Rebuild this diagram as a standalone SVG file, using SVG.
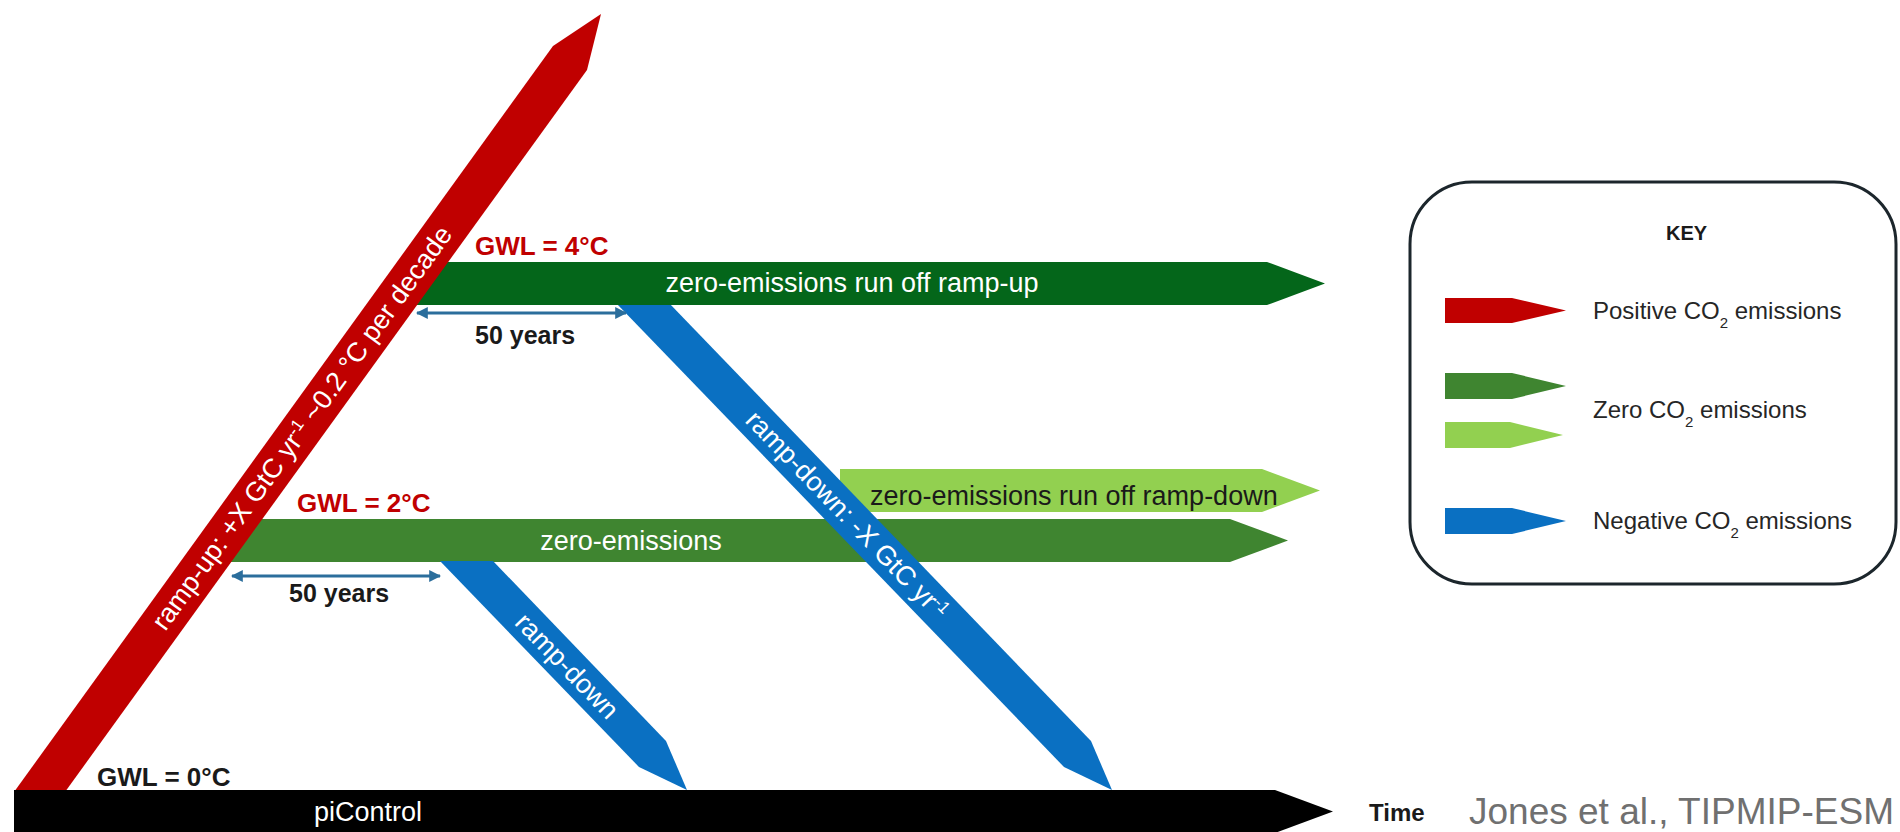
<svg xmlns="http://www.w3.org/2000/svg" width="1900" height="832" viewBox="0 0 1900 832">
<style>
text{font-family:"Liberation Sans",Arial,sans-serif}
.lbl{font-size:27px;fill:#ffffff}
.dark{font-size:27px;fill:#1a1a1a}
.gwl{font-size:26px;font-weight:bold}
.yrs{font-size:25px;font-weight:bold;fill:#1a1a1a}
.key{font-size:24px;fill:#262626}
.red{fill:#c00000}.dg{fill:#04661a}.mg{fill:#3f8530}.lg{fill:#92d050}.bl{fill:#0a70c2}.bk{fill:#000000}
.dim{stroke:#2b6e9c;stroke-width:3;fill:none;marker-start:url(#ah);marker-end:url(#ah)}
</style>
<defs>
<marker id="ah" viewBox="0 0 10 10" refX="9" refY="5" markerWidth="4" markerHeight="4" orient="auto-start-reverse">
<path d="M0,0 L10,5 L0,10 z" fill="#2b6e9c"/>
</marker>
</defs>
<rect width="1900" height="832" fill="#ffffff"/>

<g id="zero-emissions">
<polygon class="mg" points="221,519 1230,519 1288,540.5 1230,562 221,562"/>
<text class="lbl" x="631" y="550" text-anchor="middle">zero-emissions</text>
</g>

<g id="zero-emissions-run-off-ramp-down">
<polygon class="lg" points="840,469 1262,469 1320,490.5 1262,512 840,512"/>
<text class="dark" x="870" y="505">zero-emissions run off ramp-down</text>
</g>

<g id="ramp-down-long">
<polygon class="bl" points="616,303 669,303 1091,741 1112,790 1064,767"/>
<text class="lbl" transform="translate(847,515) rotate(46)" text-anchor="middle" y="9">ramp-down: -X GtC yr<tspan font-size="17" baseline-shift="super">-1</tspan></text>
</g>

<g id="zero-emissions-run-off-ramp-up">
<polygon class="dg" points="407,262 1267,262 1325,283.5 1267,305 407,305"/>
<text class="lbl" x="852" y="292" text-anchor="middle">zero-emissions run off ramp-up</text>
</g>

<g id="ramp-down-short">
<polygon class="bl" points="440,561 493,561 666,741 687,790 639,767"/>
<text class="lbl" transform="translate(567,666) rotate(46)" text-anchor="middle" y="9">ramp-down</text>
</g>

<g id="ramp-up">
<polygon class="red" points="14,792 553,46 601,14 587,70 65,792"/>
<text class="lbl" transform="translate(302,428) rotate(-54.06)" text-anchor="middle" y="9">ramp-up: +X GtC yr<tspan font-size="17" baseline-shift="super">-1</tspan> ~0.2 °C per decade</text>
</g>

<g id="piControl">
<polygon class="bk" points="14,790 1275,790 1333,811.5 1275,833 14,833"/>
<text class="lbl" x="368" y="821" text-anchor="middle">piControl</text>
</g>

<g id="connectors">
<line class="dim" x1="417" y1="313" x2="626" y2="313"/>
<line class="dim" x1="232" y1="576" x2="440" y2="576"/>
</g>

<g id="labels">
<text class="gwl" x="475" y="255" fill="#c00000">GWL = 4°C</text>
<text class="gwl" x="297" y="512" fill="#c00000">GWL = 2°C</text>
<text class="gwl" x="97" y="786" fill="#1a1a1a">GWL = 0°C</text>
<text class="yrs" x="475" y="344">50 years</text>
<text class="yrs" x="289" y="602">50 years</text>
<text x="1369" y="821" font-size="24" font-weight="bold" fill="#1a1a1a">Time</text>
<text x="1469" y="824" font-size="37" fill="#707070">Jones et al., TIPMIP-ESM</text>
</g>

<g id="key">
<rect x="1410" y="182" width="486" height="402" rx="62" ry="62" fill="none" stroke="#1c262c" stroke-width="3"/>
<text x="1666" y="240" font-size="20" font-weight="bold" fill="#1a1a1a">KEY</text>
<polygon class="red" points="1445,298 1512,298 1566,310.5 1512,323 1445,323"/>
<polygon class="mg" points="1445,373 1512,373 1566,386 1512,399 1445,399"/>
<polygon class="lg" points="1445,422 1510,422 1563,435 1510,448 1445,448"/>
<polygon class="bl" points="1445,508 1512,508 1566,521 1512,534 1445,534"/>
<text class="key" x="1593" y="319">Positive CO<tspan font-size="15" baseline-shift="sub">2</tspan> emissions</text>
<text class="key" x="1593" y="418">Zero CO<tspan font-size="15" baseline-shift="sub">2</tspan> emissions</text>
<text class="key" x="1593" y="529">Negative CO<tspan font-size="15" baseline-shift="sub">2</tspan> emissions</text>
</g>
</svg>
